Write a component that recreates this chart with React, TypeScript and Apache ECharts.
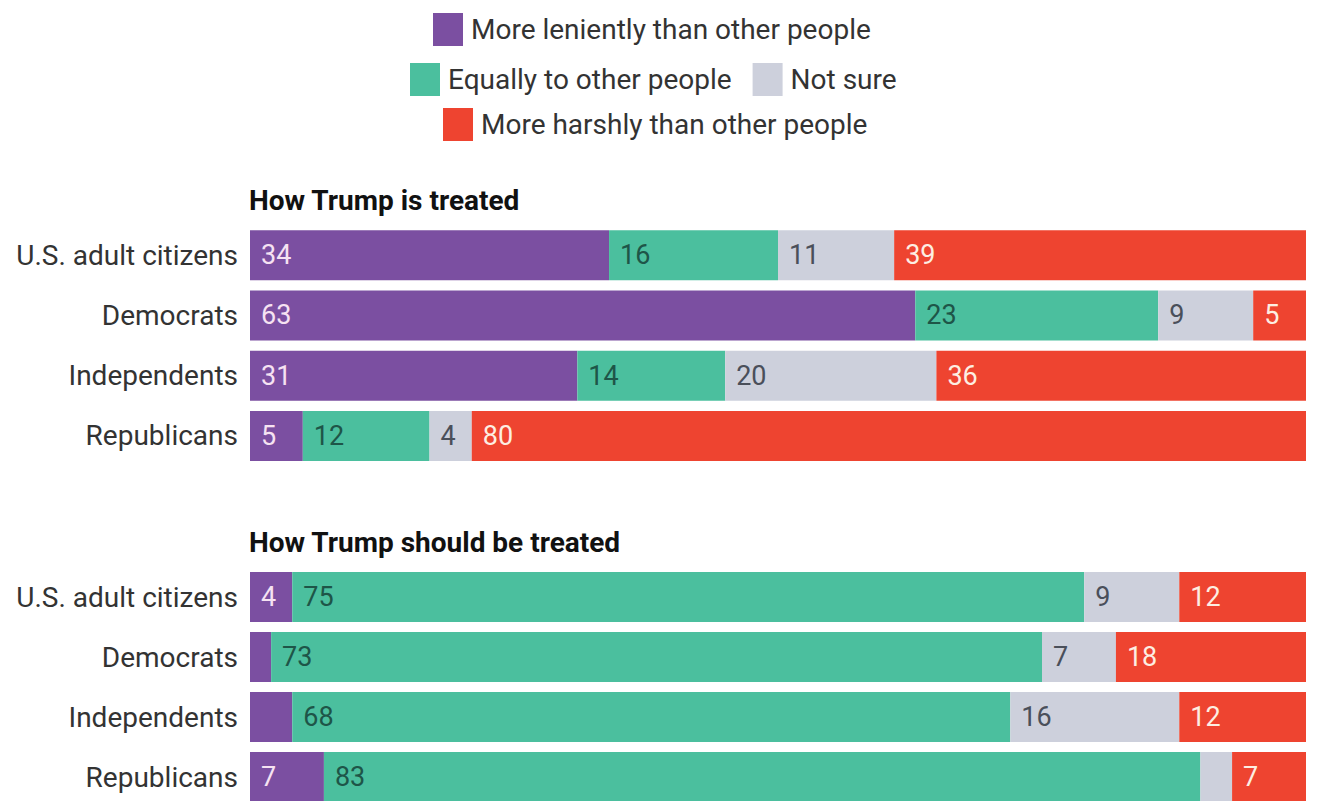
import React, { useEffect, useRef } from "react";
import * as echarts from "echarts";

const groups = ["U.S. adult citizens", "Democrats", "Independents", "Republicans"];
const seriesNames = [
  "More leniently than other people",
  "Equally to other people",
  "Not sure",
  "More harshly than other people",
];
const panelTitles = ["How Trump is treated", "How Trump should be treated"];

// Panel 1: How Trump is treated
const isLenient = [34, 63, 31, 5];
const isEqual = [16, 23, 14, 12];
const isNotSure = [11, 9, 20, 4];
const isHarsh = [39, 5, 36, 80];

// Panel 2: How Trump should be treated
const shouldLenient = [4, 2, 4, 7];
const shouldEqual = [75, 73, 68, 83];
const shouldNotSure = [9, 7, 16, 3];
const shouldHarsh = [12, 18, 12, 7];

// which segments carry a printed value in the original
const shouldLenientShown = [true, false, false, true];
const shouldNotSureShown = [true, true, true, false];

const colors = ["#7b4fa1", "#4bbf9e", "#cdd0dc", "#ee4430"];
const labelColors = ["#f6e2f2", "#1e5548", "#4a4f5a", "#fdeee2"];

export default function App() {
  const ref = useRef<HTMLDivElement>(null);
  useEffect(() => {
    if (!ref.current) return;
    const chart = echarts.init(ref.current, undefined, { renderer: "svg" });
    const font = "Roboto, 'Noto Sans', sans-serif";

    const mkData = (vals: number[], shown?: boolean[]) =>
      vals.map((v, i) =>
        shown && !shown[i] ? { value: v, label: { show: false } } : { value: v }
      );

    const panels = [
      [isLenient, isEqual, isNotSure, isHarsh],
      [shouldLenient, shouldEqual, shouldNotSure, shouldHarsh],
    ];
    const shownFlags = [
      [undefined, undefined, undefined, undefined],
      [shouldLenientShown, undefined, shouldNotSureShown, undefined],
    ];

    const series: any[] = [];
    panels.forEach((panel, p) => {
      panel.forEach((vals, k) => {
        series.push({
          type: "bar",
          name: seriesNames[k],
          stack: "panel" + p,
          xAxisIndex: p,
          yAxisIndex: p,
          barWidth: 50,
          clip: true,
          itemStyle: { color: colors[k] },
          label: {
            show: true,
            position: "insideLeft",
            distance: 11,
            color: labelColors[k],
            fontSize: 27,
            fontFamily: font,
          },
          emphasis: { disabled: true },
          data: mkData(vals, shownFlags[p][k] as boolean[] | undefined),
        });
      });
    });

    const legendCommon = {
      icon: "rect",
      itemWidth: 30,
      itemHeight: 33,
      itemGap: 21,
      padding: 0,
      selectedMode: false,
      textStyle: { fontSize: 28, color: "#333", fontFamily: font, padding: [0, 0, 0, 3] },
    };

    chart.setOption({
      animation: false,
      backgroundColor: "#ffffff",
      legend: [
        { ...legendCommon, left: 433, top: 13, data: [seriesNames[0]] },
        { ...legendCommon, left: 410, top: 63, data: [seriesNames[1], seriesNames[2]] },
        { ...legendCommon, left: 443, top: 108, data: [seriesNames[3]] },
      ],
      title: [
        {
          text: panelTitles[0],
          left: 249,
          top: 186,
          padding: 0,
          textStyle: { fontSize: 28, fontWeight: "bold", color: "#111", fontFamily: font },
        },
        {
          text: panelTitles[1],
          left: 249,
          top: 528,
          padding: 0,
          textStyle: { fontSize: 28, fontWeight: "bold", color: "#111", fontFamily: font },
        },
      ],
      grid: [
        { left: 250, right: 13, top: 225, height: 241 },
        { left: 250, right: 13, top: 567, height: 240 },
      ],
      xAxis: [0, 1].map((i) => ({
        type: "value",
        gridIndex: i,
        min: 0,
        max: 100,
        show: false,
      })),
      yAxis: [0, 1].map((i) => ({
        type: "category",
        gridIndex: i,
        data: groups,
        inverse: true,
        axisLine: { show: false },
        axisTick: { show: false },
        axisLabel: { fontSize: 28, color: "#333", fontFamily: font, margin: 12 },
      })),
      series,
    });
    return () => chart.dispose();
  }, []);
  return (
    <div
      ref={ref}
      style={{ position: "fixed", left: 0, top: 0, width: 1319, height: 812 }}
    />
  );
}
